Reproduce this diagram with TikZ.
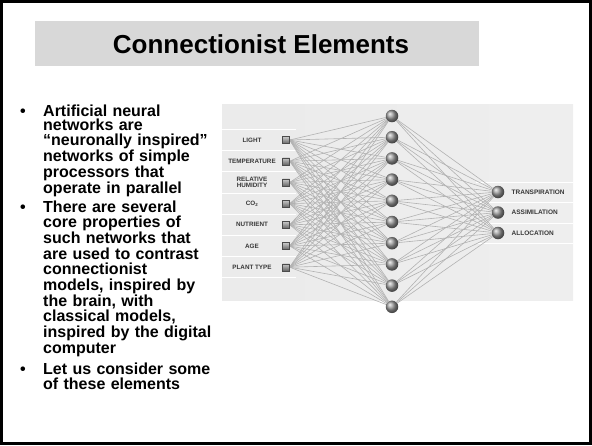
\documentclass[tikz,border=0pt]{standalone}
\usepackage{fontspec}
\setmainfont{Liberation Sans}
\usetikzlibrary{positioning}
\pgfdeclarelayer{panel}
\pgfdeclarelayer{wires}
\pgfsetlayers{panel,wires,main}
\definecolor{bandgray}{HTML}{D8D8D8}
\definecolor{wiregray}{HTML}{B2B2B2}
\definecolor{labelgray}{HTML}{383838}

\tikzset{
  neuron/.style={circle, minimum size=12.5pt, inner sep=0pt, ball color=gray!80},
  sensor/.style={rectangle, minimum size=7pt, inner sep=0pt, top color=gray!40, bottom color=gray!80!black, draw=gray!60!black, line width=0.3pt},
  inlabel/.style={font=\fontsize{6.3}{6.6}\selectfont\bfseries, text=labelgray, align=center, inner sep=0pt},
  outlabel/.style={font=\fontsize{6.5}{7}\selectfont\bfseries, text=labelgray, anchor=west, inner sep=0pt},
  wire/.style={wiregray, line width=0.6pt},
  bullettext/.style={font=\fontsize{16}{15.3}\selectfont\bfseries, text width=185pt, align=left, inner sep=0pt, anchor=base west},
  bulletdot/.style={font=\fontsize{16}{16}\selectfont\bfseries, anchor=base, inner sep=0pt},
}

\begin{document}
\begin{tikzpicture}[x=1pt, y=-1pt]
  \useasboundingbox (0,0) rectangle (592,445);

  % slide frame and title band
  \draw[line width=3pt] (1.5,1.5) rectangle (590.5,443.5);
  \fill[bandgray] (35,21) rectangle (479,66);
  \node[anchor=base, font=\fontsize{26}{30}\selectfont\bfseries, inner sep=0pt] (title) at (261,53) {Connectionist Elements};

  % bullet list
  \node[bullettext, font=\fontsize{16}{14.9}\selectfont\bfseries] (b1) at (43,116) {Artificial neural\\ networks are\\ “neuronally inspired”\\ networks of simple\\ processors that\\ operate in parallel};
  \node[bullettext, font=\fontsize{16}{15.7}\selectfont\bfseries] (b2) at (43,212) {There are several\\ core properties of\\ such networks that\\ are used to contrast\\ connectionist\\ models, inspired by\\ the brain, with\\ classical models,\\ inspired by the digital\\ computer};
  \node[bullettext] (b3) at (43,374.5) {Let us consider some\\ of these elements};
  \node[bulletdot] (d1) at (23,116) {•};
  \node[bulletdot] (d2) at (23,212) {•};
  \node[bulletdot] (d3) at (23,374.5) {•};

  % network panel
  \begin{pgfonlayer}{panel}
    \shade[left color=gray!16, middle color=white, right color=gray!13] (222,104) rectangle (573,300);
    \foreach \k in {0,...,7}
      \draw[white, line width=1pt] (222,129.4+21.2*\k) -- (296,129.4+21.2*\k);
    \foreach \yy in {182,202.5,223,243.5}
      \draw[white, line width=1pt] (476,\yy) -- (573,\yy);
  \end{pgfonlayer}

  % input layer
  \foreach \lab [count=\k] in {LIGHT, TEMPERATURE, {RELATIVE\\HUMIDITY}, {CO\textsubscript{2}}, NUTRIENT, AGE, PLANT TYPE} {
    \node[sensor] (i\k) at (286,118.8+21.2*\k) {};
    \node[inlabel] (l\k) at (252,118.8+21.2*\k) {\lab};
  }

  % hidden layer
  \foreach \k in {1,...,10}
    \node[neuron] (h\k) at (392,94.8+21.2*\k) {};

  % output layer
  \foreach \lab [count=\k] in {TRANSPIRATION, ASSIMILATION, ALLOCATION} {
    \node[neuron] (o\k) at (498,171.5+20.5*\k) {};
    \node[outlabel, right=7pt of o\k] (ol\k) {\lab};
  }

  % connections
  \begin{pgfonlayer}{wires}
    \foreach \a in {1,...,7}
      \foreach \b in {1,...,10}
        \draw[wire] (i\a.east) -- (h\b);
    \foreach \b in {1,...,10}
      \foreach \c in {1,2,3}
        \draw[wire] (h\b) -- (o\c);
  \end{pgfonlayer}
\end{tikzpicture}
\end{document}
